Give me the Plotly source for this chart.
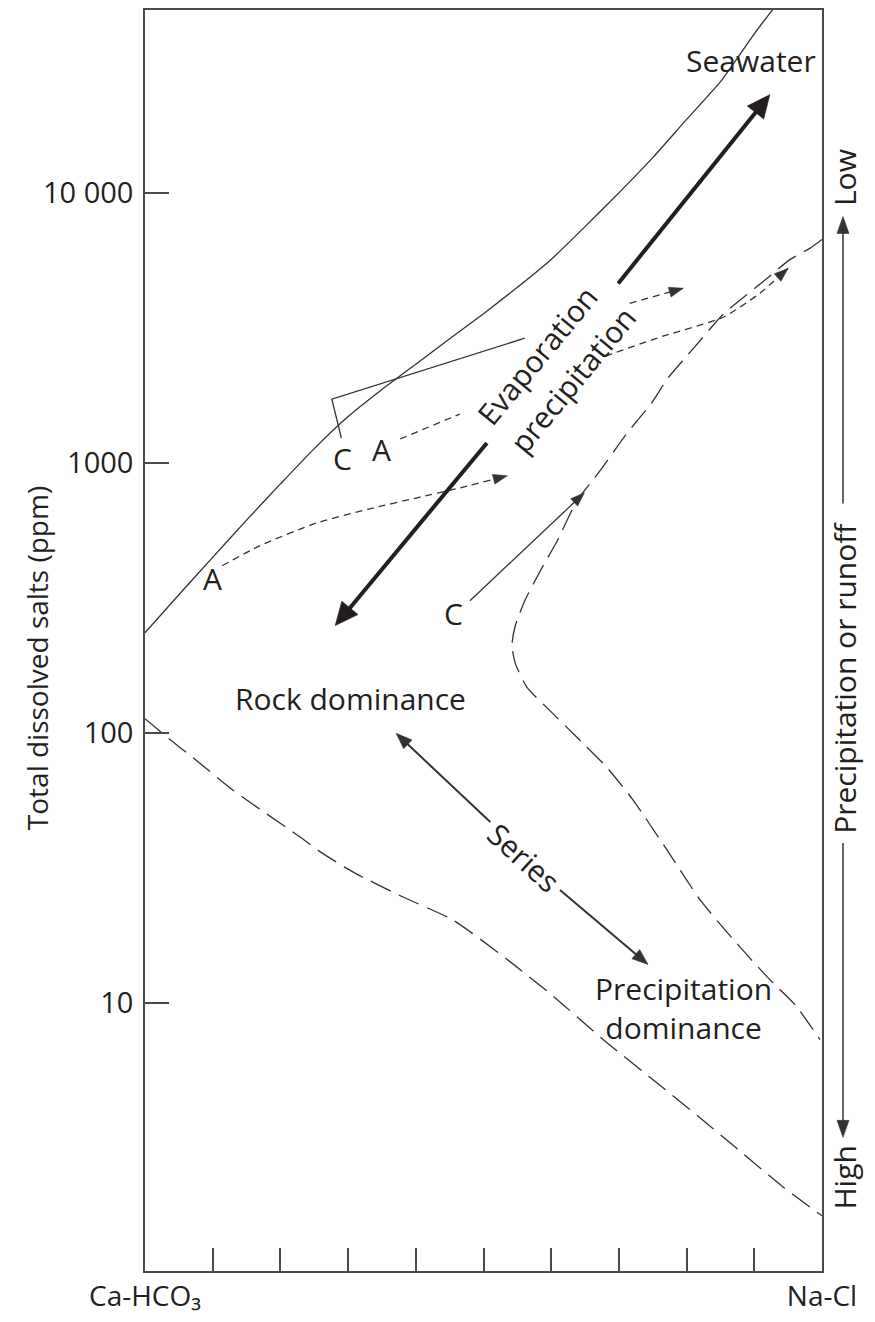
import math
import plotly.graph_objects as go

FONT = "Open Sans"
INK = "#231f20"
LINE = "#333333"
AXIS = "#4a4a4a"
FS = 30

# figure geometry (used to orient arrowheads along their paths)
W, H = 875, 1322
ML, MR, MT, MB = 145, 53, 8, 50
X_RANGE = [0, 10]
LOG_RANGE = [0.008, 4.677]
PLOT_W = W - ML - MR
PLOT_H = H - MT - MB
PX_PER_X = PLOT_W / (X_RANGE[1] - X_RANGE[0])
PX_PER_DEC = PLOT_H / (LOG_RANGE[1] - LOG_RANGE[0])

# ---- axes -------------------------------------------------------------
comp_minor_ticks = [1, 2, 3, 4, 5, 6, 7, 8, 9]
comp_label_pos = [0, 10]
comp_labels = ["Ca-HCO\u2083", "Na-Cl"]

tds_ticks = [10, 100, 1000, 10000]
tds_tick_labels = ["10", "100", "1000", "10 000"]

# ---- boundary curves ----------------------------------------------------
seawater_x = [0, 0.5, 1, 1.5, 2, 2.5, 3, 3.5, 4, 4.5, 5, 5.5, 6, 6.5, 7, 7.5, 8, 8.5, 9, 9.28]
seawater_tds = [235, 325, 447, 614, 836, 1130, 1485, 1870, 2320, 2880, 3570, 4470, 5670,
                7500, 10000, 13500, 18700, 25800, 38800, 48000]

evap_bound_x = [10.0, 9.82, 9.53, 9.19, 8.86, 8.54, 8.12, 7.71, 7.50, 7.09, 6.72, 6.38, 6.09,
                5.84, 5.61, 5.47, 5.42, 5.47, 5.64, 5.98, 6.38, 6.82, 7.21, 7.71, 8.20, 8.69,
                9.19, 9.60, 9.97]
evap_bound_tds = [6720, 6230, 5670, 4825, 4140, 3550, 2690, 2040, 1690, 1260, 934, 724, 515,
                  399, 309, 250, 211, 181, 148, 121, 96.4, 74.7, 56.4, 36.9, 24.1, 17.2,
                  12.5, 9.87, 7.32]

precip_bound_x = [0, 0.33, 0.81, 1.30, 1.80, 2.29, 2.59, 3.07, 3.81, 4.55, 5.35, 6.03, 6.77,
                  7.50, 8.17, 8.79, 9.41, 10.0]
precip_bound_tds = [113, 96.4, 77.3, 61.4, 50.1, 41.2, 36.3, 30.6, 24.7, 20.3, 14.5, 10.6,
                    7.32, 5.21, 3.81, 2.83, 2.10, 1.63]

# ---- sample paths -------------------------------------------------------
path_a_low_x = [1.14, 1.70, 2.54, 3.32, 4.02, 4.65, 5.35]
path_a_low_tds = [416, 494, 600, 676, 743, 808, 896]

path_a_up1_x = [3.77, 4.65]
path_a_up1_tds = [1227, 1517]
path_a_up2_x = [6.80, 7.65, 8.54, 9.08, 9.50]
path_a_up2_tds = [2485, 2946, 3462, 4246, 5253]

path_c_up_x = [2.90, 2.76, 5.61]
path_c_up_tds = [1237, 1723, 2896]
path_c_up_arrow_x = [7.16, 7.95]
path_c_up_arrow_tds = [3899, 4432]

path_c_low_x = [4.80, 6.49]
path_c_low_tds = [309, 775]

# ---- process arrows (tail -> tip) --------------------------------------
evap_down_x = [5.05, 2.81]
evap_down_tds = [1186, 250]
evap_up_x = [6.99, 9.23]
evap_up_tds = [4620, 23100]
series_up_x = [5.10, 3.71]
series_up_tds = [46.8, 99.7]
series_down_x = [6.13, 7.43]
series_down_tds = [26.2, 13.9]

# ---- labels ------------------------------------------------------------
region_labels = ["Seawater", "Rock dominance", "Precipitation<br>dominance"]
region_x = [9.94, 3.03, 7.96]
region_tds = [30800, 134, 9.6]
region_anchor = ["right", "center", "center"]

point_labels = ["A", "A", "C", "C"]
point_x = [1.00, 3.50, 2.91, 4.55]
point_tds = [373, 1117, 1035, 277]

# right-hand runoff scale (paper fractions)
runoff_x = 1.031
runoff_up = [0.6087, 0.8362]     # tail, tip
runoff_down = [0.3394, 0.1060]   # tail, tip

fig = go.Figure()


def to_px(x, v):
    return (ML + (x - X_RANGE[0]) * PX_PER_X,
            MT + (LOG_RANGE[1] - math.log10(v)) * PX_PER_DEC)


def from_px(px, py):
    return (X_RANGE[0] + (px - ML) / PX_PER_X,
            10 ** (LOG_RANGE[1] - (py - MT) / PX_PER_DEC))


def line(x, y, dash=None, width=1.3, color=LINE, shape="spline"):
    fig.add_trace(go.Scatter(x=x, y=y, mode="lines", hoverinfo="skip",
                             line=dict(color=color, width=width, dash=dash, shape=shape,
                                       smoothing=0.6)))


def head_geom(xs, ys):
    tx, ty = to_px(xs[-1], ys[-1])
    px, py = to_px(xs[-2], ys[-2])
    dx, dy = tx - px, ty - py
    n = math.hypot(dx, dy)
    return tx, ty, dx / n, dy / n


def head(xs, ys, length, width, color=LINE):
    tx, ty, ux, uy = head_geom(xs, ys)
    bx, by = tx - ux * length, ty - uy * length
    nx, ny = -uy, ux
    pts = [(tx, ty), (bx + nx * width / 2, by + ny * width / 2),
           (bx - nx * width / 2, by - ny * width / 2), (tx, ty)]
    d = [from_px(*p) for p in pts]
    fig.add_trace(go.Scatter(x=[p[0] for p in d], y=[p[1] for p in d], mode="lines",
                             fill="toself", fillcolor=color, hoverinfo="skip",
                             line=dict(color=color, width=0.6)))


def arrow(xs, ys, lw, length, width, color=LINE):
    tx, ty, ux, uy = head_geom(xs, ys)
    ex, ey = from_px(tx - ux * length * 0.7, ty - uy * length * 0.7)
    line([xs[0], ex], [ys[0], ey], width=lw, color=color, shape="linear")
    head(xs, ys, length, width, color)


line(seawater_x, seawater_tds)
line(evap_bound_x, evap_bound_tds, dash="22px,9px")
line(precip_bound_x, precip_bound_tds, dash="22px,9px")

line(path_a_low_x, path_a_low_tds, dash="7px,5px")
line(path_a_up1_x, path_a_up1_tds, dash="7px,5px")
line(path_a_up2_x, path_a_up2_tds, dash="7px,5px")
line(path_c_up_x, path_c_up_tds, shape="linear")
line(path_c_up_arrow_x, path_c_up_arrow_tds, dash="7px,5px")

head(path_a_low_x, path_a_low_tds, 14, 10)
head(path_a_up2_x, path_a_up2_tds, 14, 10)
head(path_c_up_arrow_x, path_c_up_arrow_tds, 14, 10)
arrow(path_c_low_x, path_c_low_tds, 1.3, 14, 10)

arrow(evap_down_x, evap_down_tds, 4, 23, 21, INK)
arrow(evap_up_x, evap_up_tds, 4, 23, 21, INK)
arrow(series_up_x, series_up_tds, 2, 16, 12)
arrow(series_down_x, series_down_tds, 2, 16, 12)

annotations = []
txt = dict(family=FONT, size=FS, color=INK)
for t, x, y, a in zip(region_labels, region_x, region_tds, region_anchor):
    annotations.append(dict(x=x, y=math.log10(y), xref="x", yref="y", text=t,
                            showarrow=False, xanchor=a, yanchor="middle", font=txt))
for t, x, y in zip(point_labels, point_x, point_tds):
    annotations.append(dict(x=x, y=math.log10(y), xref="x", yref="y", text=t,
                            showarrow=False, xanchor="center", yanchor="middle", font=txt))

rot = dict(showarrow=False, xanchor="center", yanchor="middle", font=txt)
annotations.append(dict(x=5.79, y=math.log10(2500), xref="x", yref="y", text="Evaporation",
                        textangle=-50.5, **rot))
annotations.append(dict(x=6.32, y=math.log10(2035), xref="x", yref="y", text="precipitation",
                        textangle=-50.5, **rot))
annotations.append(dict(x=5.60, y=math.log10(34.7), xref="x", yref="y", text="Series",
                        textangle=42.5, **rot))

# y-axis title
annotations.append(dict(x=-0.1595, y=0.486, xref="paper", yref="paper",
                        text="Total dissolved salts (ppm)", textangle=-90,
                        showarrow=False, xanchor="center", yanchor="middle",
                        font=dict(family=FONT, size=28, color=INK)))

annotations.append(dict(x=1.033, y=0.867, xref="paper", yref="paper", text="Low",
                        textangle=-90, **rot))
annotations.append(dict(x=1.033, y=0.0744, xref="paper", yref="paper", text="High",
                        textangle=-90, **rot))
annotations.append(dict(x=1.033, y=0.4707, xref="paper", yref="paper",
                        text="Precipitation or runoff", textangle=-90, **rot))

# right-hand arrows drawn as shapes in paper space
shapes = []
HL, HW = 17, 12  # arrowhead length / width in px
for tail, tip in (runoff_up, runoff_down):
    sgn = 1 if tip > tail else -1
    base = tip - sgn * HL / PLOT_H
    shapes.append(dict(type="line", xref="paper", yref="paper", x0=runoff_x, x1=runoff_x,
                       y0=tail, y1=base + sgn * 2 / PLOT_H,
                       line=dict(color=LINE, width=1.5)))
    hw = HW / 2 / PLOT_W
    shapes.append(dict(type="path", xref="paper", yref="paper",
                       path=f"M{runoff_x},{tip} L{runoff_x - hw},{base} L{runoff_x + hw},{base} Z",
                       fillcolor=LINE, line=dict(color=LINE, width=0.6)))

fig.update_layout(
    width=W, height=H,
    margin=dict(l=ML, r=MR, t=MT, b=MB),
    paper_bgcolor="white", plot_bgcolor="white",
    showlegend=False,
    annotations=annotations,
    shapes=shapes,
    font=dict(family=FONT, size=FS, color=INK),
)

fig.update_xaxes(range=X_RANGE, showgrid=False, zeroline=False,
                 showline=True, mirror=True, linecolor=AXIS, linewidth=1.6,
                 tickvals=comp_label_pos, ticktext=comp_labels, ticks="",
                 tickfont=dict(family=FONT, size=28, color=INK),
                 minor=dict(tickvals=comp_minor_ticks, ticks="inside", ticklen=23,
                            tickwidth=1.5, tickcolor=AXIS, showgrid=False))
fig.update_yaxes(type="log", range=LOG_RANGE, showgrid=False, zeroline=False,
                 showline=True, mirror=True, linecolor=AXIS, linewidth=1.6,
                 tickvals=tds_ticks, ticktext=tds_tick_labels, ticks="inside",
                 ticklen=24, tickwidth=1.5, tickcolor=AXIS, ticklabelstandoff=4,
                 tickfont=dict(family=FONT, size=29, color=INK))

fig.write_html("out.html")
